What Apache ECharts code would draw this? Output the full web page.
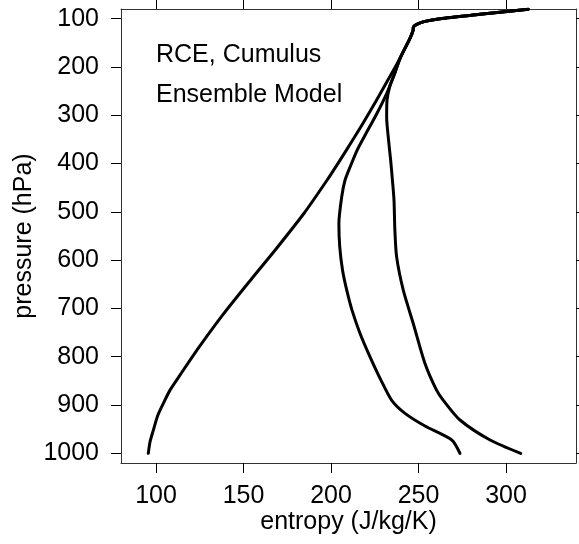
<!DOCTYPE html>
<html>
<head>
<meta charset="utf-8">
<title>RCE entropy profiles</title>
<script src="https://cdn.jsdelivr.net/npm/echarts@6/dist/echarts.min.js"></script>
<style>
  html, body { margin: 0; padding: 0; background: #fff; }
  #chart { width: 579px; height: 544px; }
</style>
</head>
<body>
<div id="chart"></div>
<script>
// Tick positions on both axes
const entropyTicks = [100, 150, 200, 250, 300];
const pressureTicks = [100, 200, 300, 400, 500, 600, 700, 800, 900, 1000];

// Dry entropy profile (J/kg/K) against pressure (hPa)
const dryPressure = [1000, 976, 951.8, 920.8, 896.6, 869.1, 838.1, 780.2, 709.8, 641.5, 573.2, 502.9, 434.6, 393.3, 351.9, 316.7, 269.1, 221.5, 180.1, 138.7, 124.2, 117.4, 111.8, 105.6, 100, 91.1, 80.5];
const dryEntropy  = [95.6, 96.6, 98.5, 101.1, 104.2, 108.0, 113.7, 124.6, 138.9, 154.0, 169.4, 184.6, 197.7, 205.1, 212.3, 218.3, 226.0, 233.4, 239.7, 245.4, 246.9, 247.1, 249.0, 253.7, 262.3, 285.1, 312.7];

// Moist entropy profile
const moistPressure = [1000, 972.4, 943.5, 917.3, 890.3, 848.9, 800.2, 751.8, 703.5, 662.1, 620.8, 572.6, 524.2, 469.1, 434.6, 407.1, 372.5, 337.9, 295.9, 255.2, 217.3, 180.1, 138.7, 124.2, 117.4, 111.8, 105.6, 100, 91.1, 80.5];
const moistEntropy  = [273.7, 269.0, 253.7, 242.3, 234.7, 228.6, 222.3, 216.6, 212.0, 209.0, 206.6, 205.0, 204.5, 206.1, 208.0, 210.9, 214.9, 220.0, 226.3, 231.8, 236.0, 239.7, 245.4, 246.9, 247.1, 249.0, 253.7, 262.3, 285.1, 312.7];

// Saturation entropy profile
const satPressure = [1000, 972.4, 931.0, 890.3, 869.6, 813.8, 731.1, 662.1, 593.3, 538.0, 475.9, 434.6, 393.3, 351.9, 303.6, 269.1, 240.0, 217.3, 180.1, 138.7, 124.2, 117.4, 111.8, 105.6, 100, 91.1, 80.5];
const satEntropy  = [308.4, 290.9, 273.7, 264.2, 260.4, 253.7, 247.0, 241.3, 237.5, 236.5, 236.0, 235.1, 234.1, 232.9, 231.8, 232.0, 233.6, 236.0, 239.7, 245.4, 246.9, 247.1, 249.0, 253.7, 262.3, 285.1, 312.7];

const FONT = "'Liberation Sans', Arial, sans-serif";
const pairs = (xs, ps) => ps.map((p, i) => [xs[i], p]);

function profile(name, xs, ps) {
  return {
    name: name,
    type: 'line',
    data: pairs(xs, ps),
    smooth: 0.25,
    showSymbol: false,
    symbol: 'none',
    lineStyle: { color: '#000', width: 3, cap: 'round', join: 'round' },
    xAxisIndex: 0,
    yAxisIndex: 0,
    animation: false
  };
}

const frameLine = { show: true, onZero: false, lineStyle: { color: '#333', width: 1 } };
const tickStyle = { color: '#000', width: 1 };
const plain = v => String(v);

const chart = echarts.init(document.getElementById('chart'), null, { renderer: 'canvas' });
chart.setOption({
  animation: false,
  backgroundColor: '#fff',
  grid: { left: 121, right: 3, top: 9, bottom: 81, containLabel: false, outerBoundsMode: 'none' },
  xAxis: [
    {
      type: 'value', position: 'bottom', min: 80, max: 340,
      axisLine: frameLine,
      axisTick: { show: true, length: 10, lineStyle: tickStyle, customValues: entropyTicks },
      axisLabel: { show: true, customValues: entropyTicks, formatter: plain, fontSize: 25, color: '#000', fontFamily: FONT, margin: 21 },
      splitLine: { show: false },
      name: 'entropy (J/kg/K)', nameLocation: 'middle', nameGap: 47, nameMoveOverlap: false,
      nameTextStyle: { fontSize: 25, color: '#000', fontFamily: FONT }
    },
    {
      type: 'value', position: 'top', min: 80, max: 340,
      axisLine: frameLine,
      axisTick: { show: true, length: 10, lineStyle: tickStyle, customValues: entropyTicks },
      axisLabel: { show: false },
      splitLine: { show: false }
    }
  ],
  yAxis: [
    {
      type: 'value', position: 'left', inverse: true, min: 80, max: 1020,
      axisLine: frameLine,
      axisTick: { show: true, length: 10, lineStyle: tickStyle, customValues: pressureTicks },
      axisLabel: { show: true, customValues: pressureTicks, formatter: plain, fontSize: 25, color: '#000', fontFamily: FONT, margin: 22 },
      splitLine: { show: false },
      name: 'pressure (hPa)', nameLocation: 'middle', nameGap: 84, nameRotate: 90, nameMoveOverlap: false,
      nameTextStyle: { fontSize: 25, color: '#000', fontFamily: FONT }
    },
    {
      type: 'value', position: 'right', inverse: true, min: 80, max: 1020,
      axisLine: frameLine,
      axisTick: { show: true, length: 10, lineStyle: tickStyle, customValues: pressureTicks },
      axisLabel: { show: false },
      splitLine: { show: false }
    }
  ],
  graphic: [
    { type: 'text', left: 156, top: 43, style: { text: 'RCE, Cumulus', fontSize: 25, fontFamily: FONT, fill: '#000' } },
    { type: 'text', left: 156, top: 83, style: { text: 'Ensemble Model', fontSize: 25, fontFamily: FONT, fill: '#000' } }
  ],
  series: [
    profile('dry entropy', dryEntropy, dryPressure),
    profile('moist entropy', moistEntropy, moistPressure),
    profile('saturation entropy', satEntropy, satPressure)
  ]
});
</script>
</body>
</html>
